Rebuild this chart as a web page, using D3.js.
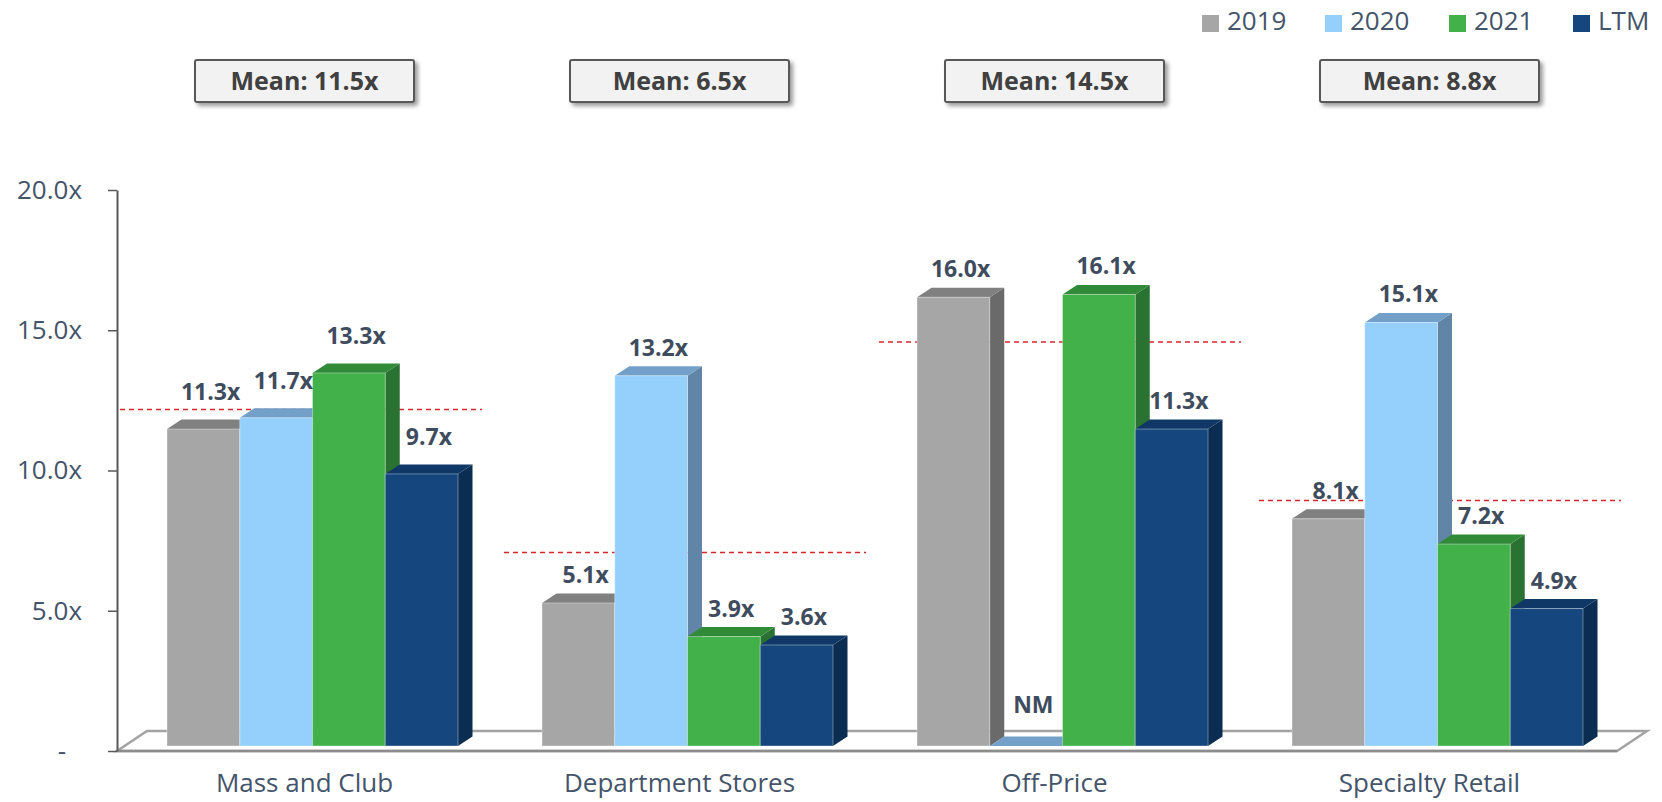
<!DOCTYPE html>
<html>
<head>
<meta charset="utf-8">
<script src="https://cdn.jsdelivr.net/npm/d3@7"></script>
<style>
  body { margin: 0; background: #fff; }
  svg { display: block; font-family: "Open Sans", sans-serif; }
</style>
</head>
<body>
<div id="container"></div>
<script>
// chart data
const categories = ["Mass and Club", "Department Stores", "Off-Price", "Specialty Retail"];
const series = ["2019", "2020", "2021", "LTM"];
const values2019 = [11.3, 5.1, 16.0, 8.1];
const values2020 = [11.7, 13.2, null, 15.1];   // null = NM
const values2021 = [13.3, 3.9, 16.1, 7.2];
const valuesLTM = [9.7, 3.6, 11.3, 4.9];
const means = [11.5, 6.5, 14.5, 8.8];
const meanLineLevels = [12.0, 6.9, 14.4, 8.75]; // where the dashed lines sit
const yTicks = [0, 5, 10, 15, 20];

const seriesValues = [values2019, values2020, values2021, valuesLTM];

// colours: front, top, side
const colors = {
  "2019": ["#a6a6a6", "#808080", "#6a6a6a"],
  "2020": ["#95d0fc", "#72a0c8", "#6085a6"],
  "2021": ["#43b14a", "#318a37", "#2a7231"],
  "LTM":  ["#15477e", "#103867", "#0c2d52"]
};

const W = 1662, H = 802;
const axisX = 117;
const depthX = 14.5, depthY = -9.5;
const frontLift = 5;   // bars' front plane sits a bit above the axis zero

var svg = d3.select("#container").append("svg")
  .attr("width", W).attr("height", H);

var defs = svg.append("defs");
var f = defs.append("filter").attr("id", "shadow")
  .attr("x", "-10%").attr("y", "-20%").attr("width", "130%").attr("height", "160%");
f.append("feDropShadow").attr("dx", 3).attr("dy", 3).attr("stdDeviation", 2)
  .attr("flood-color", "#000").attr("flood-opacity", 0.4);

var y = d3.scaleLinear().domain([0, 20]).range([751, 190]);
var x0 = d3.scaleBand().domain(categories).range([axisX, 1617]);
var x1 = d3.scaleBand().domain(series).range([50, 50 + 291]);

// floor
var floorG = svg.append("g");
floorG.append("polygon")
  .attr("points", [[axisX, y(0)], [1617, y(0)], [1617 + 30, y(0) - 20], [axisX + 30, y(0) - 20]].join(" "))
  .attr("fill", "#fff").attr("stroke", "#a3a3a3").attr("stroke-width", 2.5);
floorG.append("line")
  .attr("x1", axisX).attr("x2", 1617).attr("y1", y(0)).attr("y2", y(0))
  .attr("stroke", "#8c8c8c").attr("stroke-width", 2.5);

// mean lines (behind bars) - hand placed in the original, small shifts
var lineShift = [-9, 0, 0, 5];
svg.append("g").selectAll("line")
  .data(categories)
  .enter().append("line")
  .attr("x1", function(d, i) { return x0(d) + 12 + lineShift[i]; })
  .attr("x2", function(d, i) { return x0(d) + 374 + lineShift[i]; })
  .attr("y1", function(d, i) { return y(meanLineLevels[i]) - frontLift; })
  .attr("y2", function(d, i) { return y(meanLineLevels[i]) - frontLift; })
  .attr("stroke", "#d8262b").attr("stroke-width", 1.5)
  .attr("stroke-dasharray", "5,4");

// bars
var barsG = svg.append("g");
var bw = x1.bandwidth();
categories.forEach(function(cat, ci) {
  series.forEach(function(s, si) {
    var v = seriesValues[si][ci];
    var val = v == null ? 0 : v;
    var xl = x0(cat) + x1(s);
    var xr = xl + bw;
    var yt = y(val) - frontLift;
    var yb = y(0) - frontLift;
    var c = colors[s];
    var g = barsG.append("g");
    // side
    g.append("polygon")
      .attr("points", [[xr, yb], [xr, yt], [xr + depthX, yt + depthY], [xr + depthX, yb + depthY]].join(" "))
      .attr("fill", c[2]);
    // top
    g.append("polygon")
      .attr("points", [[xl, yt], [xr, yt], [xr + depthX, yt + depthY], [xl + depthX, yt + depthY]].join(" "))
      .attr("fill", c[1]);
    // front
    if (val > 0) {
      g.append("rect")
        .attr("x", xl).attr("y", yt).attr("width", bw).attr("height", yb - yt)
        .attr("fill", c[0])
        .attr("stroke", "rgba(255,255,255,0.35)").attr("stroke-width", 1);
    }
  });
});

// value labels
var labelsG = svg.append("g");
categories.forEach(function(cat, ci) {
  series.forEach(function(s, si) {
    var v = seriesValues[si][ci];
    var val = v == null ? 0 : v;
    var cx = x0(cat) + x1(s) + bw / 2 + depthX / 2;
    var lift = 20 + (ci === 0 ? 9 : 0) + (v == null ? 13 : 0);
    labelsG.append("text")
      .attr("x", cx)
      .attr("y", y(val) - frontLift - lift)
      .attr("text-anchor", "middle")
      .attr("font-size", 23).attr("font-weight", 700)
      .attr("fill", "#3e4c5e")
      .text(v == null ? "NM" : d3.format(".1f")(v) + "x");
  });
});

// y axis
var yAxis = svg.append("g")
  .attr("transform", "translate(" + axisX + ",0)")
  .call(d3.axisLeft(y).tickValues(yTicks).tickSize(9).tickSizeOuter(0).tickPadding(26)
    .tickFormat(function(d) { return d === 0 ? "-" : d3.format(".1f")(d) + "x"; }));
yAxis.select(".domain").attr("stroke", "#595959").attr("stroke-width", 2);
yAxis.selectAll(".tick line").attr("stroke", "#595959").attr("stroke-width", 1.5);
yAxis.selectAll(".tick text")
  .attr("font-family", "Open Sans, sans-serif")
  .attr("font-size", 26).attr("fill", "#44546a")
  .attr("dx", function(d) { return d === 0 ? -16 : 0; });

// category labels
svg.append("g").selectAll("text")
  .data(categories)
  .enter().append("text")
  .attr("x", function(d) { return x0(d) + x0.bandwidth() / 2; })
  .attr("y", 792)
  .attr("text-anchor", "middle")
  .attr("font-size", 26).attr("fill", "#44546a")
  .text(function(d) { return d; });

// mean boxes
var boxW = 219, boxH = 42;
var boxes = svg.append("g").selectAll("g")
  .data(categories)
  .enter().append("g")
  .attr("transform", function(d) { return "translate(" + (x0(d) + x0.bandwidth() / 2) + ",60)"; });
boxes.append("rect")
  .attr("x", -boxW / 2).attr("y", 0).attr("width", boxW).attr("height", boxH)
  .attr("rx", 2)
  .attr("fill", "#f2f2f2").attr("stroke", "#595959").attr("stroke-width", 2)
  .attr("filter", "url(#shadow)");
boxes.append("text")
  .attr("x", 0).attr("y", 30)
  .attr("text-anchor", "middle")
  .attr("font-size", 25).attr("font-weight", 700).attr("fill", "#404040")
  .text(function(d, i) { return "Mean: " + d3.format(".1f")(means[i]) + "x"; });

// legend
var legendX = [1202, 1325, 1449, 1573];
var legend = svg.append("g").selectAll("g")
  .data(series)
  .enter().append("g")
  .attr("transform", function(d, i) { return "translate(" + legendX[i] + ",0)"; });
legend.append("rect")
  .attr("x", 0).attr("y", 15).attr("width", 17).attr("height", 17)
  .attr("fill", function(d) { return colors[d][0]; });
legend.append("text")
  .attr("x", 25).attr("y", 30)
  .attr("font-size", 26).attr("fill", "#44546a")
  .text(function(d) { return d; });
</script>
</body>
</html>
